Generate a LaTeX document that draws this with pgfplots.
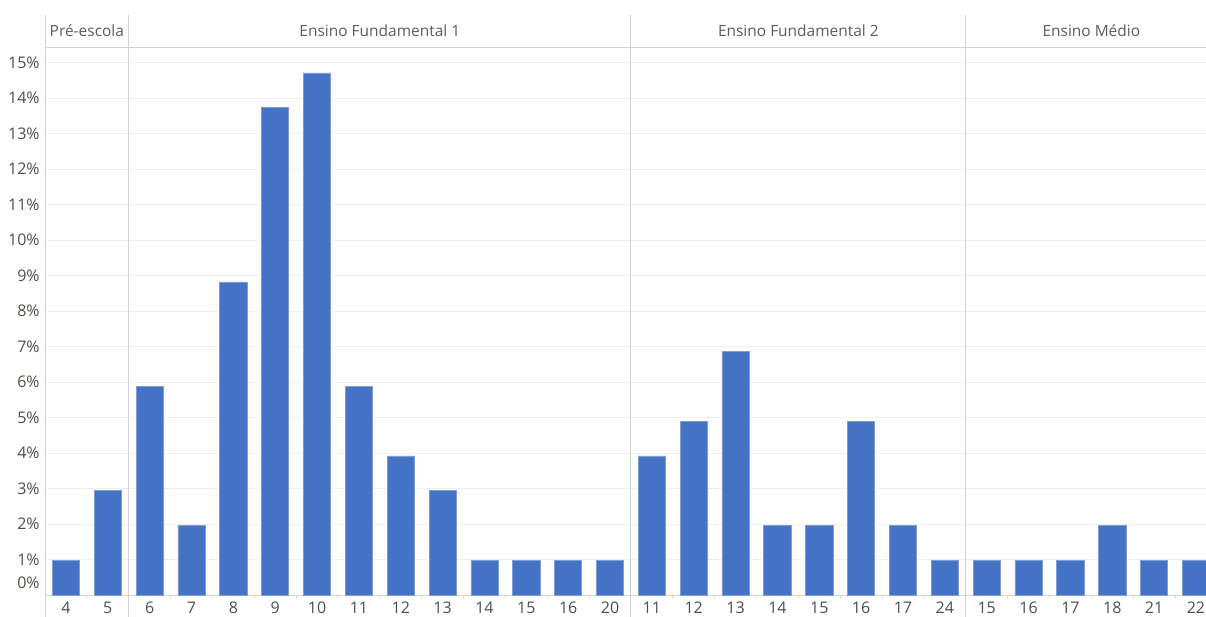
\documentclass[border=0pt]{standalone}
\usepackage{fontspec}
\setmainfont{Open Sans}
\usepackage{pgfplots}
\usepackage{pgfplotstable}
\pgfplotsset{compat=1.18}

\definecolor{barblue}{HTML}{4472C4}
\definecolor{baredge}{HTML}{7E9DD6}
\definecolor{tickgray}{HTML}{524D49}
\definecolor{headgray}{HTML}{5C5C5C}
\definecolor{sepgray}{HTML}{D2D2D2}
\definecolor{gridgray}{HTML}{F0F0F0}

% share of students (%) by age, one slot per age within each school stage
\pgfplotstableread{
pos share
0 0.98
1 2.94
2 5.88
3 1.96
4 8.82
5 13.73
6 14.71
7 5.88
8 3.92
9 2.94
10 0.98
11 0.98
12 0.98
13 0.98
14 3.92
15 4.90
16 6.86
17 1.96
18 1.96
19 4.90
20 1.96
21 0.98
22 0.98
23 0.98
24 0.98
25 1.96
26 0.98
27 0.98
}\agedata

\begin{document}
\begin{tikzpicture}
\begin{axis}[
  at={(33.75pt,-446.25pt)}, anchor=south west,
  scale only axis, width=870.75pt, height=411pt,
  xmin=-0.5, xmax=27.24, ymin=0, ymax=15.44,
  clip=false,
  axis lines*=left,
  x axis line style={draw=sepgray, line width=0.75pt},
  y axis line style={draw=none},
  ytick={1,...,15},
  yticklabel={\pgfmathprintnumber{\tick}\%},
  /pgf/number format/assume math mode=true,
  extra y ticks={0},
  extra y tick labels={0\%},
  extra y tick style={grid=none, yticklabel style={yshift=9pt}},
  ymajorgrids,
  grid style={draw=gridgray, line width=0.75pt},
  xtick={0,...,27},
  xticklabels={4,5,6,7,8,9,10,11,12,13,14,15,16,20,11,12,13,14,15,16,17,24,15,16,17,18,21,22},
  minor xtick={0.5,1.5,...,26.5},
  major tick length=0pt,
  minor tick length=2.5pt,
  tick align=outside,
  minor tick style={draw=sepgray, line width=0.75pt},
  tick label style={font=\fontsize{12}{14}\selectfont, text=tickgray},
  xticklabel style={yshift=-1.5pt},
  yticklabel style={xshift=-0.5pt},
  ybar, bar width=0.65,
]
\addplot[fill=barblue, draw=baredge, line width=0.5pt] table[x=pos, y=share] {\agedata};

% stage separators and header band
\pgfplotsinvokeforeach{-0.5,1.5,13.5,21.5}{
  \draw[sepgray, line width=0.75pt] (axis cs:#1,-0.62) -- (axis cs:#1,16.34);
}
\draw[sepgray, line width=0.75pt] (axis cs:-0.5,15.44) -- (axis cs:27.24,15.44);
\node[text=headgray, font=\fontsize{11.6}{13}\selectfont] at (axis cs:0.5,15.89) {Pré-escola};
\node[text=headgray, font=\fontsize{11.6}{13}\selectfont] at (axis cs:7.5,15.89) {Ensino Fundamental 1};
\node[text=headgray, font=\fontsize{11.6}{13}\selectfont] at (axis cs:17.5,15.89) {Ensino Fundamental 2};
\node[text=headgray, font=\fontsize{11.6}{13}\selectfont] at (axis cs:24.5,15.89) {Ensino Médio};
\end{axis}
\pgfresetboundingbox
\path[use as bounding box] (0,0) rectangle (904.5pt,-462.75pt);
\end{tikzpicture}
\end{document}
